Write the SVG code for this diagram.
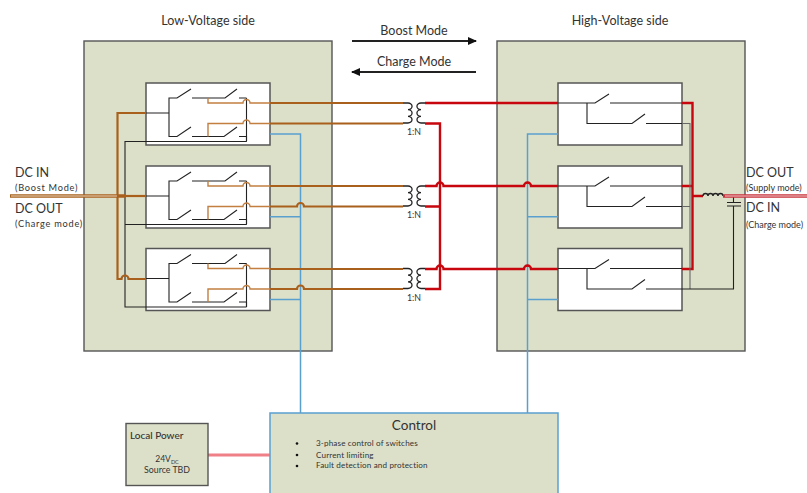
<svg xmlns="http://www.w3.org/2000/svg" width="807" height="493" viewBox="0 0 807 493">
<style>
text{font-family:Lato,"Liberation Sans",Arial,sans-serif;fill:#333}
.panel{fill:#dde0c9;stroke:#555;stroke-width:1.400}
.box{fill:#fff;stroke:#555;stroke-width:1.500}
.w{fill:none;stroke:#222;stroke-width:1.100}
.g{fill:none;stroke:#666;stroke-width:1.100}
.bt{fill:none;stroke:#a8601c;stroke-width:2.200}
.bl{fill:none;stroke:#c27f40;stroke-width:1.400}
.r{fill:none;stroke:#c8060e;stroke-width:2.400}
.bu{fill:none;stroke:#5aa0cf;stroke-width:1.500}
.c{fill:none;stroke:#222;stroke-width:1.300}
.t12{font-size:12.500px}
.t8{font-size:9.200px;letter-spacing:.75px}
.t8r{font-size:9px}
.t8n{font-size:8.800px}
.t7{font-size:8.100px;letter-spacing:.15px}
.m{text-anchor:middle}
</style>
<defs>
<marker id="ah" markerWidth="9" markerHeight="8" refX="8" refY="4" orient="auto" markerUnits="userSpaceOnUse"><path d="M0 0L9 4L0 8Z" fill="#111"/></marker>
<g id="lvsw">
<rect class="box" x="146" y="83" width="124" height="62"/>
<path class="w" d="M146 113H169M169 113V98H177L191 89M192 98H225L237 89M239 98H246.500M169 113V136.500H177L191 127M192 136.500H224L237 127M239 136.500H246.500V141.500"/>
<path class="w" d="M246.500 98V141.500"/>
<path class="bl" d="M208 98V103H243a3.500 3.500 0 0 1 7 0H270M208 136.500V123.500H243a3.500 3.500 0 0 1 7 0H270"/>
</g>
<g id="hvsw">
<rect class="box" x="558" y="83" width="124" height="62"/>
<path class="w" d="M558 103H595L609 94M610 103H682M587 103V123.500H632L645 114M646 123.500H682"/>
</g>
<g id="xf">
<path class="c" d="M403 103h5a4 3.300 0 0 1 0 6.700a4 3.300 0 0 1 0 6.700a4 3.300 0 0 1 0 6.600h-5M425 103h-4a4 3.300 0 0 0 0 6.700a4 3.300 0 0 0 0 6.700a4 3.300 0 0 0 0 6.600h4"/>
</g>
</defs>
<rect width="807" height="493" fill="#fff"/>
<g id="lv-panel"><rect class="panel" x="84" y="41" width="248" height="310"/><text class="t12 m" x="208" y="25">Low-Voltage side</text></g>
<g id="hv-panel"><rect class="panel" x="497" y="41" width="248" height="310"/><text class="t12 m" x="620" y="25">High-Voltage side</text></g>
<g id="lv-switch-1"><use href="#lvsw"/></g>
<g id="lv-switch-2"><use href="#lvsw" y="83"/></g>
<g id="lv-switch-3"><use href="#lvsw" y="165.500"/></g>
<g id="hv-switch-1"><use href="#hvsw"/></g>
<g id="hv-switch-2"><use href="#hvsw" y="83"/></g>
<g id="hv-switch-3"><use href="#hvsw" y="165.500"/></g>
<g id="connectors">
<path class="bu" d="M270 134H300.500V413M270 216.700H300.500M270 299.500H300.500"/>
<path class="bu" d="M558 134H527.500V413M558 216.700H527.500M558 299.500H527.500"/>
<path class="w" d="M246.500 141.500H125V307H246.500M125 224.500H246.500"/>
<path class="bt" d="M146 113H117.500V279H121.500a3.500 3.500 0 0 1 7 0H146"/>
<path d="M10 196H125" fill="none" stroke="#a8601c" stroke-width="3.400"/>
<path d="M11 196H117" fill="none" stroke="#ead9c4" stroke-width="1.200"/>
<path d="M125 196H146" class="bt"/>
<path class="bt" d="M270 103H403M270 123.500H403M270 186H403M270 206.500H297a3.500 3.500 0 0 1 7 0H403M270 269H403M270 289H297a3.500 3.500 0 0 1 7 0H403"/>
<use href="#xf"/><use href="#xf" y="83"/><use href="#xf" y="165.500"/>
<path class="r" d="M425 103H558M425 123.500H440V289H425M425 206.500H440"/>
<path class="r" d="M425 186H436.500a3.500 3.500 0 0 1 7 0H524a3.500 3.500 0 0 1 7 0H558M425 269H436.500a3.500 3.500 0 0 1 7 0H524a3.500 3.500 0 0 1 7 0H558"/>
<path class="r" d="M682 103H692.500V269H682M682 186H692.500M692.500 196H703"/>
<path class="g" d="M682 123.500H690V289M682 206.500H690"/>
<path class="w" d="M682 289H733.500V206M733.500 196V202M727 202.500H741M727 206H741"/>
<path class="c" d="M703 196a2.500 2.500 0 0 1 5 0a2.500 2.500 0 0 1 5 0a2.500 2.500 0 0 1 5 0a2.500 2.500 0 0 1 5 0"/>
<path d="M723 196H807" fill="none" stroke="#c8303a" stroke-width="3.400"/>
<path d="M725 196H807" fill="none" stroke="#f0d0d0" stroke-width="1.200"/>
<path d="M208 455H270" fill="none" stroke="#f08088" stroke-width="3"/>
<path d="M352 41H476" fill="none" stroke="#222" stroke-width="1.800" marker-end="url(#ah)"/>
<path d="M476 72H352" fill="none" stroke="#222" stroke-width="1.800" marker-end="url(#ah)"/>
</g>
<g id="transformer-labels">
<text class="t8n m" x="414" y="134.500">1:N</text>
<text class="t8n m" x="414" y="217.500">1:N</text>
<text class="t8n m" x="414" y="300.500">1:N</text>
</g>
<g id="mode-labels">
<text class="t12 m" x="414" y="35">Boost Mode</text>
<text class="t12 m" x="414" y="66">Charge Mode</text>
</g>
<g id="dc-left">
<text class="t12" x="15" y="177">DC IN</text>
<text class="t8" x="15" y="191">(Boost Mode)</text>
<text class="t12" x="15" y="213">DC OUT</text>
<text class="t8" x="15" y="227">(Charge mode)</text>
</g>
<g id="dc-right">
<text class="t12" x="746" y="177">DC OUT</text>
<text class="t8r" x="746" y="191">(Supply mode)</text>
<text class="t12" x="746" y="212">DC IN</text>
<text class="t8r" x="746" y="228">(Charge mode)</text>
</g>
<g id="local-power">
<rect x="126" y="423.500" width="82" height="62" fill="#dde0c9" stroke="#555" stroke-width="1.400"/>
<text x="130" y="439" font-size="10" style="font-weight:500">Local Power</text>
<text class="m" x="167" y="462" font-size="8.500">24V<tspan font-size="5.500" dy="2">DC</tspan></text>
<text class="t8n m" x="167" y="473">Source TBD</text>
</g>
<g id="control">
<rect x="270" y="413" width="288" height="90" fill="#dde0c9" stroke="#5aa0cf" stroke-width="1.500"/>
<text class="m" x="414" y="430" font-size="13.500">Control</text>
<circle cx="297" cy="443.500" r="1.300" fill="#111"/><circle cx="297" cy="455" r="1.300" fill="#111"/><circle cx="297" cy="466" r="1.300" fill="#111"/>
<text class="t7" x="316" y="446">3-phase control of switches</text>
<text class="t7" x="316" y="457.500">Current limiting</text>
<text class="t7" x="316" y="468">Fault detection and protection</text>
</g>
</svg>
